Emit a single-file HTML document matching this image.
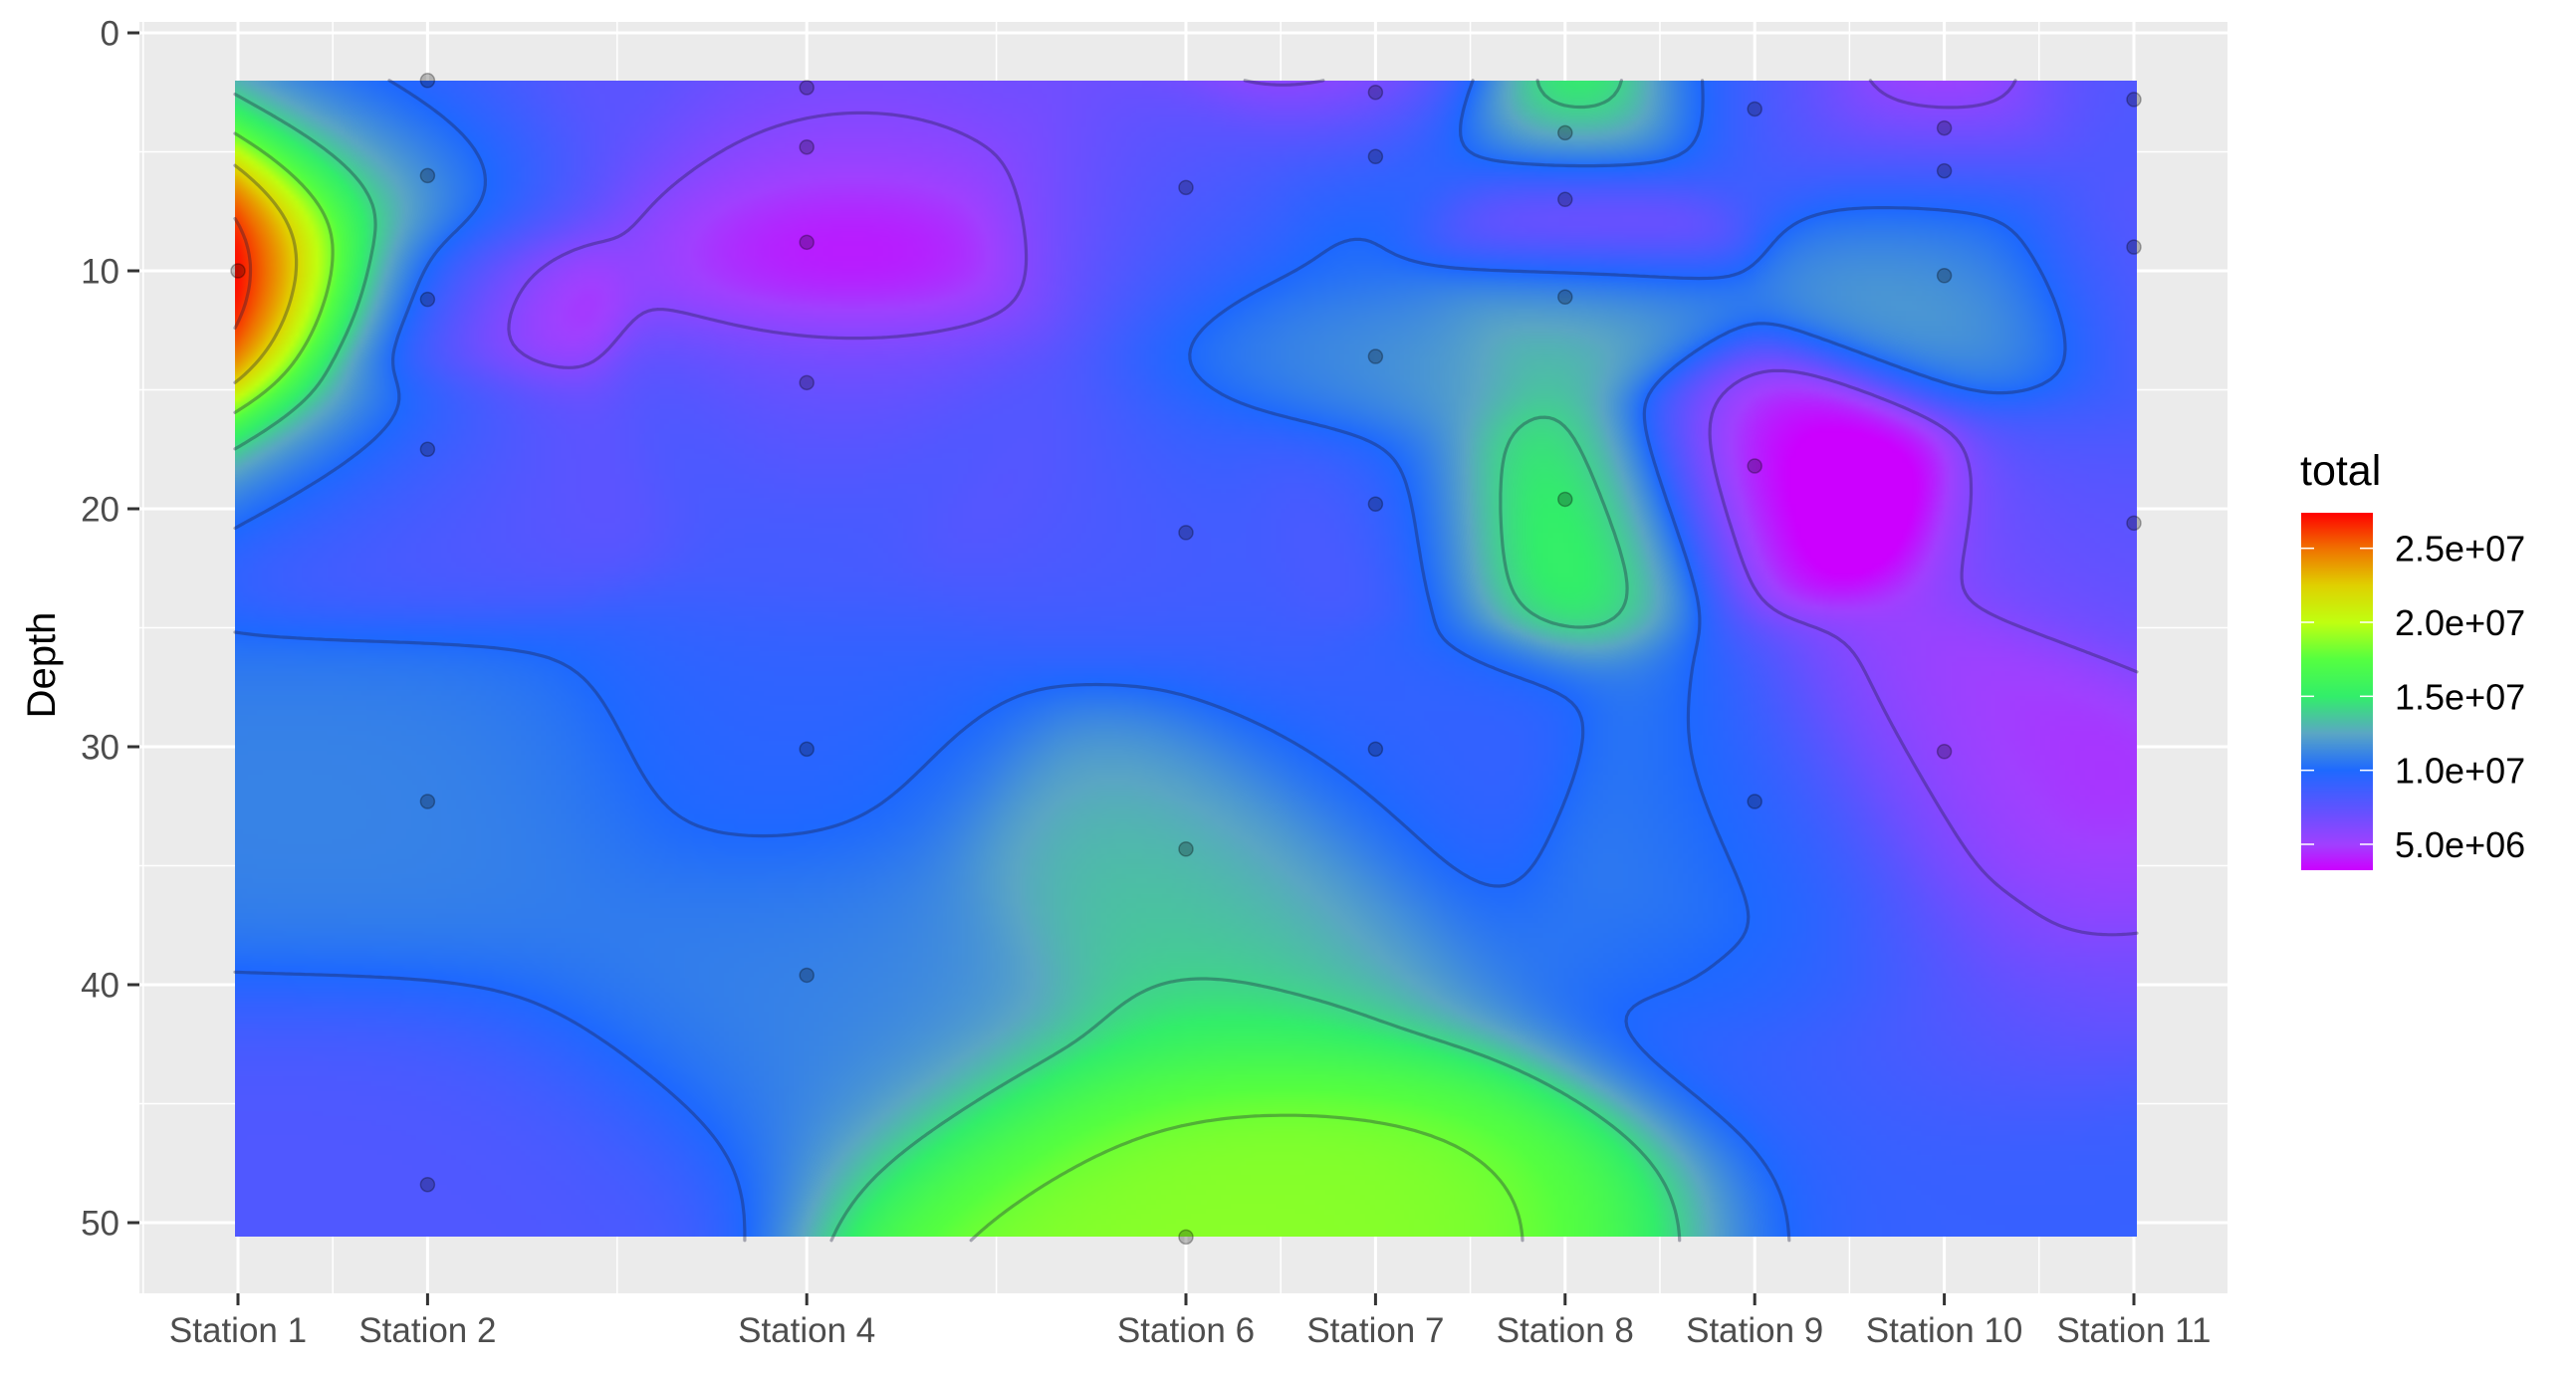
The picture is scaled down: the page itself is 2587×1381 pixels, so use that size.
<!DOCTYPE html>
<html><head><meta charset="utf-8"><style>
html,body{margin:0;padding:0;background:#fff;}
#root{position:relative;width:2587px;height:1381px;overflow:hidden;font-family:"Liberation Sans",sans-serif;}
svg{position:absolute;left:0;top:0;}
</style></head><body>
<div id="root">
<svg id="chart" width="2587" height="1381"></svg>
</div>
<script>
// ---- data ----
const stationNums = [1,2,2,2,2,2,2,4,4,4,4,4,4,6,6,6,6,7,7,7,7,7,8,8,8,8,9,9,9,10,10,10,10,11,11,11];
const depths      = [10,2,6,11.2,17.5,32.3,48.4,2.3,4.8,8.8,14.7,30.1,39.6,6.5,21,34.3,50.6,2.5,5.2,13.6,19.8,30.1,4.2,7,11.1,19.6,3.2,18.2,32.3,4,5.8,10.2,30.2,2.8,9,20.6];
const totals      = [2.7e7,9.5e6,1.15e7,9e6,9e6,1.1e7,8e6,6.5e6,5.5e6,4e6,7e6,9.5e6,1.1e7,8e6,8.5e6,1.3e7,1.87e7,6e6,9.5e6,1.15e7,9e6,9.5e6,1.5e7,5e6,1.2e7,1.5e7,8.5e6,4.2e6,9.5e6,5e6,1e7,1.15e7,5.5e6,8e6,8e6,7.5e6];
const xBreaks = [1,2,4,6,7,8,9,10,11];
const xLabels = ["Station 1","Station 2","Station 4","Station 6","Station 7","Station 8","Station 9","Station 10","Station 11"];
const xMinor = [0.5,1.5,3,5,6.5,7.5,8.5,9.5,10.5,11.5];
const yBreaks = [0,10,20,30,40,50];
const yMinor = [5,15,25,35,45];
const legendBreaks = [2.5e7,2.0e7,1.5e7,1.0e7,5e6];
const legendLabels = ["2.5e+07","2.0e+07","1.5e+07","1.0e+07","5.0e+06"];
const contourLevels = [6e6,1e7,1.4e7,1.8e7,2.2e7,2.6e7];

// ---- scales ----
const PL=140,PR=2237,PT=22,PB=1299;
function sx(s){return 239+(s-1)*190.4;}
function sy(d){return 33+d*23.9;}
const VMIN=3.25e6,VMAX=2.74e7;
const LT=515,LB=874;
function ly(v){return LB-(v-VMIN)/(VMAX-VMIN)*(LB-LT);}
const stops=[[3.25e6,[204,0,255]],[5e6,[160,64,255]],[7.5e6,[92,84,255]],[1e7,[30,105,255]],[1.25e7,[90,166,196]],[1.5e7,[50,238,106]],[1.75e7,[85,255,64]],[2e7,[192,255,16]],[2.25e7,[224,208,0]],[2.5e7,[240,112,0]],[2.74e7,[255,0,0]]];
function col(v){
  if(v<=stops[0][0])return stops[0][1];
  for(let i=1;i<stops.length;i++){if(v<=stops[i][0]){const a=stops[i-1],b=stops[i];const t=(v-a[0])/(b[0]-a[0]);return [0,1,2].map(k=>Math.round(a[1][k]+(b[1][k]-a[1][k])*t));}}
  return stops[stops.length-1][1];
}

const NS="http://www.w3.org/2000/svg";
const svg=document.getElementById('chart');
function mk(tag,attrs,parent){const e=document.createElementNS(NS,tag);for(const k in attrs)e.setAttribute(k,attrs[k]);(parent||svg).appendChild(e);return e;}

// panel
const panel=mk('rect',{x:PL,y:PT,width:PR-PL,height:PB-PT,fill:'#ebebeb'});


const grid=mk('g',{});


yMinor.forEach(d=>{mk('line',{x1:PL,x2:PR,y1:sy(d),y2:sy(d),stroke:'#fff','stroke-width':1.5},grid);});
xMinor.forEach(s=>{mk('line',{x1:sx(s),x2:sx(s),y1:PT,y2:PB,stroke:'#fff','stroke-width':1.5},grid);});
yBreaks.forEach(d=>{mk('line',{x1:PL,x2:PR,y1:sy(d),y2:sy(d),stroke:'#fff','stroke-width':3},grid);});
xBreaks.forEach(s=>{mk('line',{x1:sx(s),x2:sx(s),y1:PT,y2:PB,stroke:'#fff','stroke-width':3},grid);});

// ---- interpolation (Barnes successive-correction analysis, anisotropic) ----
const N=totals.length;const px=stationNums.map(sx),py=depths.map(sy);
const YS=1.5,BASE=9e6,EPS=0.01;
function pass(x,y,vals,sig,base){let sw=EPS,sv=EPS*base;for(let i=0;i<N;i++){const dx=x-px[i],dy=(y-py[i])*YS;const w=Math.exp(-(dx*dx+dy*dy)/(2*sig*sig));sw+=w;sv+=w*vals[i];}return sv/sw;}
const S1=165,S2=105,S3=70;
const r1=totals.map((v,i)=>v-pass(px[i],py[i],totals,S1,BASE));
const r2=totals.map((v,i)=>v-pass(px[i],py[i],totals,S1,BASE)-pass(px[i],py[i],r1,S2,0));
function field(x,y){const f=pass(x,y,totals,S1,BASE)+pass(x,y,r1,S2,0)+pass(x,y,r2,S3,0);return Math.max(VMIN,Math.min(VMAX,f));}

const HX0=sx(1)-3,HX1=sx(11)+3,HY0=sy(2),HY1=sy(50.6);
const STEP=5;const GW=Math.ceil((HX1-HX0)/STEP)+1,GH=Math.ceil((HY1-HY0)/STEP)+1;
const G=[];for(let j=0;j<GH;j++){const row=[];for(let i=0;i<GW;i++)row.push(field(HX0+i*STEP,HY0+j*STEP));G.push(row);}
// raster via canvas
const cv=document.createElement('canvas');cv.width=GW;cv.height=GH;
const ctx=cv.getContext('2d');const im=ctx.createImageData(GW,GH);
for(let j=0;j<GH;j++)for(let i=0;i<GW;i++){const c=col(G[j][i]);const o=(j*GW+i)*4;im.data[o]=c[0];im.data[o+1]=c[1];im.data[o+2]=c[2];im.data[o+3]=255;}
ctx.putImageData(im,0,0);
const fo=mk('foreignObject',{x:HX0,y:HY0,width:HX1-HX0,height:HY1-HY0});


cv.style.width=(HX1-HX0)+'px';cv.style.height=(HY1-HY0)+'px';cv.style.display='block';
fo.appendChild(cv);

// contours (marching squares)
let d='';
function ip(a,b,va,vb,L){const t=(L-va)/(vb-va);return [a[0]+(b[0]-a[0])*t,a[1]+(b[1]-a[1])*t];}
contourLevels.forEach(L=>{
  for(let j=0;j<GH-1;j++)for(let i=0;i<GW-1;i++){
    const p=[[HX0+i*STEP,HY0+j*STEP],[HX0+(i+1)*STEP,HY0+j*STEP],[HX0+(i+1)*STEP,HY0+(j+1)*STEP],[HX0+i*STEP,HY0+(j+1)*STEP]];
    const v=[G[j][i],G[j][i+1],G[j+1][i+1],G[j+1][i]];
    const pts=[];
    for(let e=0;e<4;e++){const a=e,b=(e+1)%4;if((v[a]<L)!==(v[b]<L))pts.push(ip(p[a],p[b],v[a],v[b],L));}
    for(let k=0;k+1<pts.length;k+=2)d+='M'+pts[k][0].toFixed(1)+' '+pts[k][1].toFixed(1)+'L'+pts[k+1][0].toFixed(1)+' '+pts[k+1][1].toFixed(1);
  }
});
const cp=mk('path',{d:d,stroke:'rgba(30,30,60,0.35)','stroke-width':3.2,fill:'none','stroke-linecap':'round'});



// sample points
const pg=mk('g',{});


for(let i=0;i<N;i++){
  const c=mk('circle',{cx:sx(stationNums[i]),cy:sy(depths[i]),r:7,fill:'rgba(0,0,0,0.25)',stroke:'rgba(0,0,0,0.3)','stroke-width':1.5},pg);
  
  
}

// axes
const xa=mk('g',{});


xBreaks.forEach((s,i)=>{
  mk('line',{x1:sx(s),x2:sx(s),y1:PB,y2:PB+12,stroke:'#333','stroke-width':3},xa);
  const t=mk('text',{x:sx(s),y:PB+49,'text-anchor':'middle','font-size':35,fill:'#4d4d4d'},xa);
  t.textContent=xLabels[i];
  
  
});
const ya=mk('g',{});


yBreaks.forEach(v=>{
  mk('line',{x1:PL-12,x2:PL,y1:sy(v),y2:sy(v),stroke:'#333','stroke-width':3},ya);
  const t=mk('text',{x:PL-20,y:sy(v)+12.5,'text-anchor':'end','font-size':35,fill:'#4d4d4d'},ya);
  t.textContent=String(v);
  
  
});
const yt=mk('text',{x:0,y:0,transform:'translate(55,668) rotate(-90)','text-anchor':'middle','font-size':40,fill:'#000'});
yt.textContent='Depth';



// legend
const lg=mk('g',{});


const lt=mk('text',{x:2310,y:487,'font-size':43,fill:'#000'},lg);
lt.textContent='total';


const defs=mk('defs',{});
const gr=mk('linearGradient',{id:'lgrad',x1:0,y1:1,x2:0,y2:0},defs);
stops.forEach(s=>{mk('stop',{offset:((s[0]-VMIN)/(VMAX-VMIN)).toFixed(4),'stop-color':'rgb('+s[1].join(',')+')'},gr);});
const bar=mk('rect',{x:2311,y:LT,width:72,height:LB-LT,fill:'url(#lgrad)'},lg);


legendBreaks.forEach((v,i)=>{
  mk('line',{x1:2311,x2:2324,y1:ly(v),y2:ly(v),stroke:'#fff','stroke-width':1.5},lg);
  mk('line',{x1:2370,x2:2383,y1:ly(v),y2:ly(v),stroke:'#fff','stroke-width':1.5},lg);
  const t=mk('text',{x:2405,y:ly(v)+13,'font-size':36,fill:'#000'},lg);
  t.textContent=legendLabels[i];
  
  
});
</script>
</body></html>
